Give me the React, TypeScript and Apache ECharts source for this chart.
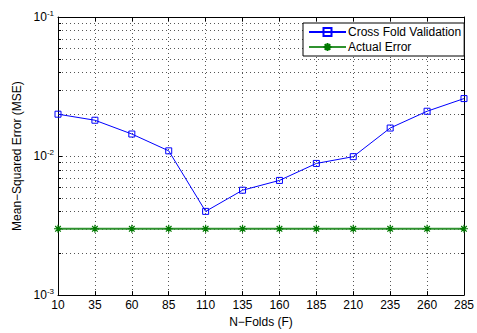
import React, { useEffect, useRef } from "react";
import * as echarts from "echarts";

const folds = ["10", "35", "60", "85", "110", "135", "160", "185", "210", "235", "260", "285"];
const cvError = [0.0200, 0.0181, 0.0144, 0.0109, 0.0040, 0.00568, 0.00668, 0.00885, 0.0099, 0.0159, 0.0210, 0.0259];
const actualError = [0.003, 0.003, 0.003, 0.003, 0.003, 0.003, 0.003, 0.003, 0.003, 0.003, 0.003, 0.003];
const minorTicks = [0.002, 0.003, 0.004, 0.005, 0.006, 0.007, 0.008, 0.009, 0.02, 0.03, 0.04, 0.05, 0.06, 0.07, 0.08, 0.09];
const yMin = 0.001;
const yMax = 0.1;

const FONT = "Liberation Sans, Arial, Helvetica, sans-serif";
const ASTERISK = "path://M0,4L8,4M4,0L4,8M1.2,1.2L6.8,6.8M6.8,1.2L1.2,6.8";

export default function App() {
  const ref = useRef<HTMLDivElement>(null);
  useEffect(() => {
    if (!ref.current) return;
    const chart = echarts.init(ref.current, null, { renderer: "svg" });
    const gridStyle = { color: "#555", width: 1, type: [1, 3] as any };
    const yLabel = (v: number) => {
      const e = Math.round(Math.log10(v));
      return "{b|10}{s|" + e + "}";
    };
    chart.setOption({
      animation: false,
      backgroundColor: "#fff",
      textStyle: { fontFamily: FONT },
      grid: { left: 58, right: 8, top: 17, bottom: 33, containLabel: false },
      legend: {
        data: ["Cross Fold Validation", "Actual Error"],
        orient: "vertical",
        left: 303,
        top: 23,
        padding: [3, 3, 3, 5],
        itemGap: 3,
        itemWidth: 37,
        itemHeight: 10,
        backgroundColor: "#fff",
        borderColor: "#000",
        borderWidth: 1,
        borderRadius: 0,
        textStyle: { fontSize: 12, color: "#000", fontFamily: FONT, padding: [0, 0, 0, -3] },
      },
      xAxis: [
        {
          type: "category",
          data: folds,
          boundaryGap: false,
          name: "N\u2212Folds (F)",
          nameLocation: "middle",
          nameGap: 16,
          nameTextStyle: { fontSize: 12, color: "#000", fontFamily: FONT },
          axisLine: { lineStyle: { color: "#000", width: 1 } },
          axisTick: { inside: true, length: 4, lineStyle: { color: "#000" } },
          axisLabel: { fontSize: 12, color: "#000", margin: 4, fontFamily: FONT },
          splitLine: { show: true, lineStyle: gridStyle },
        },
        {
          type: "category",
          data: folds,
          boundaryGap: false,
          position: "top",
          axisLine: { lineStyle: { color: "#000", width: 1 } },
          axisTick: { inside: true, length: 4, lineStyle: { color: "#000" } },
          axisLabel: { show: false },
          splitLine: { show: false },
        },
      ],
      yAxis: [
        {
          type: "log",
          logBase: 10,
          min: yMin,
          max: yMax,
          name: "Mean\u2212Squared Error (MSE)",
          nameLocation: "middle",
          nameGap: 34,
          nameTextStyle: { fontSize: 12, color: "#000", fontFamily: FONT },
          axisLine: { show: true, lineStyle: { color: "#000", width: 1 } },
          axisTick: { show: true, inside: true, length: 4, lineStyle: { color: "#000" } },
          axisLabel: {
            margin: 4,
            formatter: yLabel,
            rich: {
              b: { fontSize: 12, color: "#000", lineHeight: 16, fontFamily: FONT, verticalAlign: "middle" },
              s: { fontSize: 8, color: "#000", lineHeight: 8, fontFamily: FONT, verticalAlign: "top" },
            },
          },
          splitLine: { show: true, lineStyle: gridStyle },
        },
        {
          type: "log",
          logBase: 10,
          min: yMin,
          max: yMax,
          position: "right",
          axisLine: { show: true, lineStyle: { color: "#000", width: 1 } },
          axisTick: { show: true, inside: true, length: 4, lineStyle: { color: "#000" } },
          axisLabel: { show: false },
          splitLine: { show: false },
        },
      ],
      series: [
        {
          type: "custom",
          name: "minor",
          coordinateSystem: "cartesian2d",
          silent: true,
          z: 1,
          data: minorTicks.map((v) => [0, v]),
          renderItem: (params: any, api: any) => {
            const cs = params.coordSys;
            const y = Math.round(api.coord([0, api.value(1)])[1]) + 0.5;
            return {
              type: "group",
              children: [
                {
                  type: "line",
                  shape: { x1: cs.x, y1: y, x2: cs.x + cs.width, y2: y },
                  style: { stroke: "#555", lineWidth: 1, lineDash: [1, 3] },
                },
                {
                  type: "line",
                  shape: { x1: cs.x, y1: y, x2: cs.x + 3, y2: y },
                  style: { stroke: "#000", lineWidth: 1 },
                },
                {
                  type: "line",
                  shape: { x1: cs.x + cs.width - 3, y1: y, x2: cs.x + cs.width, y2: y },
                  style: { stroke: "#000", lineWidth: 1 },
                },
              ],
            };
          },
        },
        {
          type: "line",
          name: "Actual Error",
          data: actualError,
          z: 3,
          symbol: ASTERISK,
          symbolSize: 8,
          showAllSymbol: true,
          lineStyle: { color: "#2f922f", width: 1.8 },
          itemStyle: { color: "rgba(0,0,0,0)", borderColor: "#007a00", borderWidth: 1.2 },
        },
        {
          type: "line",
          name: "Cross Fold Validation",
          data: cvError,
          z: 4,
          symbol: "rect",
          symbolSize: 6,
          showAllSymbol: true,
          lineStyle: { color: "#0000ff", width: 1 },
          itemStyle: { color: "rgba(0,0,0,0)", borderColor: "#0000ff", borderWidth: 1 },
        },
      ],
    });
    return () => chart.dispose();
  }, []);
  return <div ref={ref} style={{ position: "fixed", left: 0, top: 0, width: 477, height: 333 }} />;
}
